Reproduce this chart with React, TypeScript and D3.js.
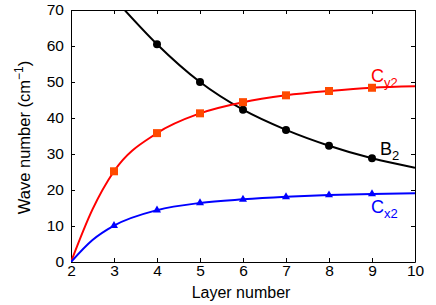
import React, { useEffect, useRef } from 'react'
import * as d3 from 'd3'

// marker values
const layers = [3, 4, 5, 6, 7, 8, 9]
const b2 = [NaN, 60.5, 50, 42.3, 36.7, 32.3, 28.8]
const cy2 = [25.2, 35.8, 41.3, 44.4, 46.3, 47.5, 48.4]
const cx2 = [10.1, 14.4, 16.4, 17.4, 18.1, 18.6, 18.9]

// fitted line samples
const b2LineX = [3.2, 4, 5, 6, 7, 8, 9, 10]
const b2LineY = [70.6, 60.5, 50, 42.3, 36.7, 32.3, 28.8, 26.2]
const cLineX = [2, 2.5, 3, 4, 5, 6, 7, 8, 9, 10]
const cy2LineY = [0, 14.6, 25.2, 35.8, 41.3, 44.4, 46.3, 47.5, 48.4, 48.8]
const cx2LineY = [0, 6.1, 10.1, 14.4, 16.4, 17.4, 18.1, 18.6, 18.9, 19.1]

const xTicks = [2, 3, 4, 5, 6, 7, 8, 9, 10]
const yTicks = [0, 10, 20, 30, 40, 50, 60, 70]

const W = 436
const H = 305
const m = { left: 71, right: 21, top: 10, bottom: 43 }
const font = 'Liberation Sans, Arial, Helvetica, sans-serif'

const App = () => {
  const ref = useRef<SVGSVGElement>(null)

  useEffect(() => {
    const svg = d3.select(ref.current)
    svg.selectAll('*').remove()

    const x = d3.scaleLinear().domain([2, 10]).range([m.left, W - m.right])
    const y = d3.scaleLinear().domain([0, 70]).range([H - m.bottom, m.top])

    svg.append('defs').append('clipPath').attr('id', 'plot')
      .append('rect')
      .attr('x', m.left).attr('y', m.top)
      .attr('width', W - m.left - m.right).attr('height', H - m.top - m.bottom)

    // frame + inward ticks on all four sides
    const axes = svg.append('g')
    axes.append('g').attr('transform', `translate(0,${H - m.bottom})`)
      .call(d3.axisBottom(x).tickValues(xTicks).tickSizeInner(-4).tickSizeOuter(0).tickPadding(3))
    axes.append('g').attr('transform', `translate(0,${m.top})`)
      .call(d3.axisTop(x).tickValues(xTicks).tickSizeInner(-4).tickSizeOuter(0).tickFormat(() => ''))
    axes.append('g').attr('transform', `translate(${m.left},0)`)
      .call(d3.axisLeft(y).tickValues(yTicks).tickSizeInner(-4).tickSizeOuter(0).tickPadding(7))
    axes.append('g').attr('transform', `translate(${W - m.right},0)`)
      .call(d3.axisRight(y).tickValues(yTicks).tickSizeInner(-4).tickSizeOuter(0).tickFormat(() => ''))
    axes.selectAll('text').attr('font-size', 15.5).attr('font-family', font).attr('fill', '#000')
    axes.selectAll('path, line').attr('stroke', '#000')

    const plot = svg.append('g').attr('clip-path', 'url(#plot)')
    const line = d3.line<[number, number]>()
      .x(d => x(d[0])).y(d => y(d[1]))
      .curve(d3.curveMonotoneX)

    const draw = (xs: number[], ys: number[], color: string) => {
      plot.append('path')
        .attr('d', line(xs.map((v, i) => [v, ys[i]] as [number, number])))
        .attr('fill', 'none').attr('stroke', color).attr('stroke-width', 2)
    }
    draw(b2LineX, b2LineY, '#000')
    draw(cLineX, cy2LineY, '#ff0000')
    draw(cLineX, cx2LineY, '#0000ff')

    // markers
    plot.selectAll('circle.b2')
      .data(layers.map((l, i) => [l, b2[i]]).filter(d => !isNaN(d[1])))
      .enter().append('circle')
      .attr('cx', d => x(d[0])).attr('cy', d => y(d[1])).attr('r', 4)
      .attr('fill', '#000')

    plot.selectAll('rect.cy2')
      .data(layers.map((l, i) => [l, cy2[i]]))
      .enter().append('rect')
      .attr('x', d => x(d[0]) - 4).attr('y', d => y(d[1]) - 4)
      .attr('width', 8).attr('height', 8)
      .attr('fill', '#ff4a00')

    const tri = d3.symbol().type(d3.symbolTriangle).size(28)
    plot.selectAll('path.cx2')
      .data(layers.map((l, i) => [l, cx2[i]]))
      .enter().append('path')
      .attr('d', tri)
      .attr('transform', d => `translate(${x(d[0])},${y(d[1])})`)
      .attr('fill', '#0000ff')

    // series labels
    const label = (px: number, py: number, main: string, sub: string, color: string) => {
      const t = svg.append('text').attr('x', px).attr('y', py)
        .attr('font-family', font).attr('font-size', 18).attr('fill', color)
      t.append('tspan').text(main)
      t.append('tspan').attr('dy', 5).attr('font-size', 13).text(sub)
    }
    label(371, 82, 'C', 'y2', '#ff0000')
    label(380, 155, 'B', '2', '#000')
    label(371, 213, 'C', 'x2', '#0000ff')

    // axis titles
    svg.append('text')
      .attr('x', 241).attr('y', 297.5)
      .attr('text-anchor', 'middle')
      .attr('font-family', font).attr('font-size', 16)
      .text('Layer number')

    const yl = svg.append('text')
      .attr('transform', `translate(29.5,137.5) rotate(-90)`)
      .attr('text-anchor', 'middle')
      .attr('font-family', font).attr('font-size', 16.5)
    yl.append('tspan').text('Wave number (cm')
    yl.append('tspan').attr('dy', -7).attr('font-size', 12).text('−1')
    yl.append('tspan').attr('dy', 7).text(')')
  }, [])

  return <svg ref={ref} width={W} height={H} style={{ position: 'absolute', left: 0, top: 0 }} />
}

export default App
